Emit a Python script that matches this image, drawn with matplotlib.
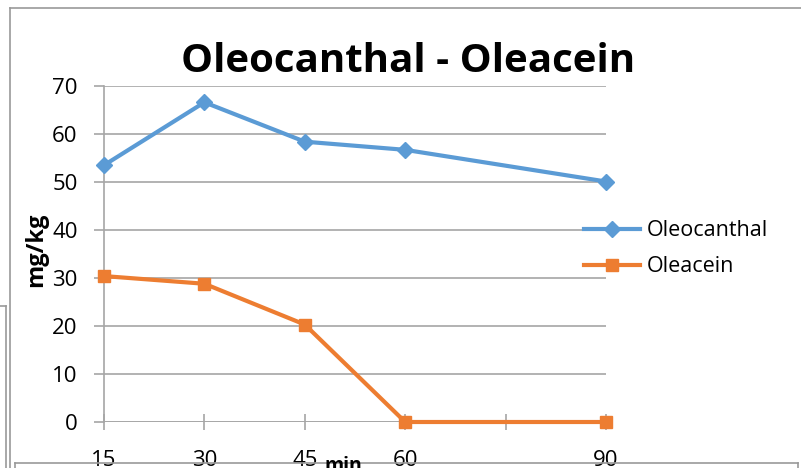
import numpy as np
import matplotlib.pyplot as plt
from matplotlib.lines import Line2D

minutes = [15, 30, 45, 60, 90]
oleocanthal = [53.5, 66.6, 58.4, 56.7, 50.1]
oleacein = [30.4, 28.8, 20.3, 0, 0]
x_ticks = [15, 30, 45, 60, 75, 90]
x_labels = ['15', '30', '45', '60', '', '90']
y_ticks = [0, 10, 20, 30, 40, 50, 60, 70]

W, H = 801, 468
plt.rcParams['font.family'] = ['Open Sans', 'DejaVu Sans']
fig = plt.figure(figsize=(W / 100, H / 100), dpi=100)

def fx(px):
    return px / W

def fy(py):
    return 1 - py / H

ax = fig.add_axes([fx(104), fy(422), fx(606) - fx(104), fy(86) - fy(422)])
grid_col = '#a6a6a6'

ax.plot(minutes, oleocanthal, color='#5B9BD5', lw=3, marker='D', ms=8,
        label='Oleocanthal', clip_on=False, zorder=3)
ax.plot(minutes, oleacein, color='#ED7D31', lw=3, marker='s', ms=9,
        label='Oleacein', clip_on=False, zorder=3)

ax.set_xlim(15, 90)
ax.set_ylim(0, 70)
ax.set_xticks(x_ticks)
ax.set_xticklabels(x_labels)
ax.set_yticks(y_ticks)
ax.yaxis.grid(True, color=grid_col, lw=1.2)
for s in ['top', 'right', 'bottom']:
    ax.spines[s].set_visible(False)
ax.spines['left'].set_color(grid_col)
ax.spines['left'].set_linewidth(1.2)
ax.axhline(0, color=grid_col, lw=1.2, zorder=1)
ax.tick_params(axis='y', length=7, color=grid_col, width=1.2, labelsize=16, pad=12)
ax.tick_params(axis='x', direction='inout', length=12, color=grid_col, width=1.2,
               labelsize=16, pad=14)

fig.text(fx(408), fy(62), 'Oleocanthal - Oleacein', ha='center', va='center',
         fontsize=29, fontweight='bold')
fig.text(fx(36), fy(250), 'mg/kg', ha='center', va='center', rotation=90,
         fontsize=17, fontweight='bold')
fig.text(fx(343), fy(456), 'min', ha='center', va='top', fontsize=14,
         fontweight='bold')

ax.legend(loc='center left', bbox_to_anchor=(0.918, 0.515), frameon=False,
          fontsize=15.5, handlelength=2.6, handletextpad=0.3, labelspacing=0.7)

# screenshot frame lines
frame = [((10, 801), (8, 8)), ((10, 10), (8, 468)),
         ((0, 6), (306, 306)), ((6, 6), (306, 468)),
         ((15, 798), (463, 463)), ((15, 15), (463, 468)), ((798, 798), (463, 468))]
for xs, ys in frame:
    fig.add_artist(Line2D([fx(v) for v in xs], [fy(v) for v in ys],
                          color='#999999', lw=1.2))

fig.savefig('out.png', dpi=100)
